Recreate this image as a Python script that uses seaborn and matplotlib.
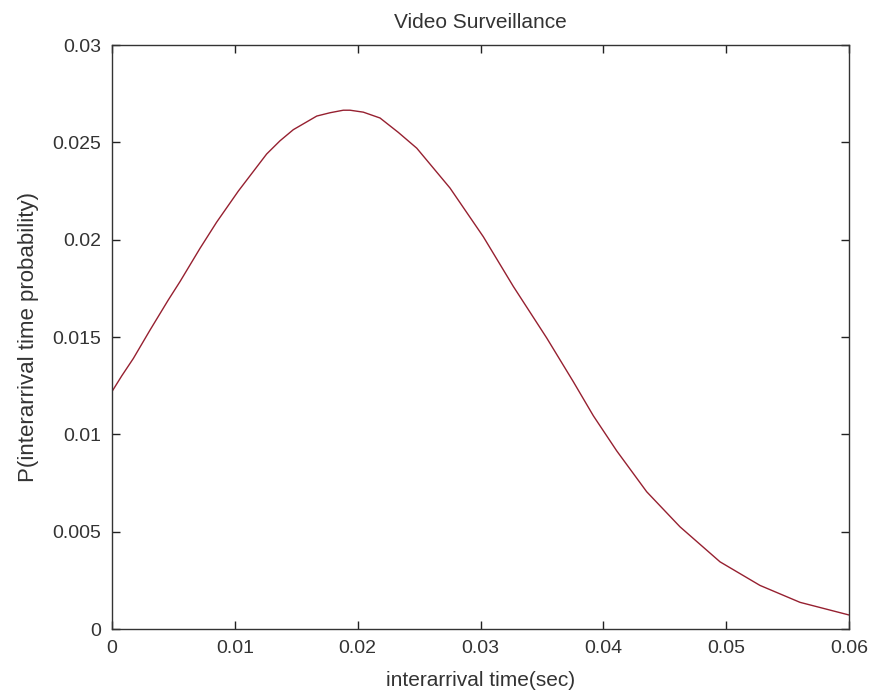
import matplotlib
matplotlib.use("Agg")
import matplotlib.pyplot as plt
import seaborn as sns
import pandas as pd

# values
interarrival_time = [0.0, 0.00079, 0.00174, 0.00309, 0.00458, 0.00554, 0.00716,
                     0.00852, 0.01029, 0.01259, 0.01368, 0.01476, 0.01667,
                     0.01775, 0.01883, 0.01938, 0.02046, 0.02182, 0.02331,
                     0.02481, 0.02752, 0.03023, 0.03267, 0.03539, 0.03756,
                     0.03919, 0.04109, 0.04353, 0.04624, 0.0495, 0.05275,
                     0.05601, 0.06]
probability = [0.0122, 0.0130, 0.01390, 0.01535, 0.01690, 0.01785, 0.01955,
               0.02090, 0.02250, 0.02440, 0.02508, 0.02565, 0.02635,
               0.02652, 0.02665, 0.02665, 0.02655, 0.02625, 0.02551,
               0.02470, 0.02265, 0.02015, 0.01760, 0.01495, 0.01270,
               0.01095, 0.00915, 0.00705, 0.00525, 0.00345, 0.00224,
               0.00137, 0.00072]
x_ticks = [0, 0.01, 0.02, 0.03, 0.04, 0.05, 0.06]
x_tick_labels = ["0", "0.01", "0.02", "0.03", "0.04", "0.05", "0.06"]
y_ticks = [0, 0.005, 0.01, 0.015, 0.02, 0.025, 0.03]
y_tick_labels = ["0", "0.005", "0.01", "0.015", "0.02", "0.025", "0.03"]

sns.set_style("white")
plt.rcParams['font.family'] = ['Liberation Sans', 'DejaVu Sans']

df = pd.DataFrame({"t": interarrival_time, "p": probability})

fig = plt.figure(figsize=(8.76, 6.92), dpi=100)
ax = fig.add_axes([112/876, 1-629/692, (849-112)/876, (629-45)/692])
sns.lineplot(data=df, x="t", y="p", ax=ax, color="#962030", linewidth=1.0)

ax.set_xlim(0, 0.06)
ax.set_ylim(0, 0.03)
ax.set_xticks(x_ticks)
ax.set_xticklabels(x_tick_labels)
ax.set_yticks(y_ticks)
ax.set_yticklabels(y_tick_labels)
ax.tick_params(direction="in", length=6, width=1, colors="#222222",
               labelcolor="#333333", labelsize=14, top=True, right=True,
               bottom=True, left=True)
ax.tick_params(axis="x", pad=8)
ax.tick_params(axis="y", pad=7.5)
for s in ax.spines.values():
    s.set_visible(True)
    s.set_color("#333333")
    s.set_linewidth(1.0)

ax.set_title("Video Surveillance", fontsize=15, color="#333333", pad=12)
ax.set_xlabel("interarrival time(sec)", fontsize=15, color="#333333")
ax.set_ylabel("P(interarrival time probability)", fontsize=16, color="#333333")
ax.xaxis.set_label_coords(0.5, -(671 - 629) / 584)
ax.yaxis.set_label_coords((39 - 112) / 737, 0.5)

fig.savefig("out.png", dpi=100, facecolor="white")
